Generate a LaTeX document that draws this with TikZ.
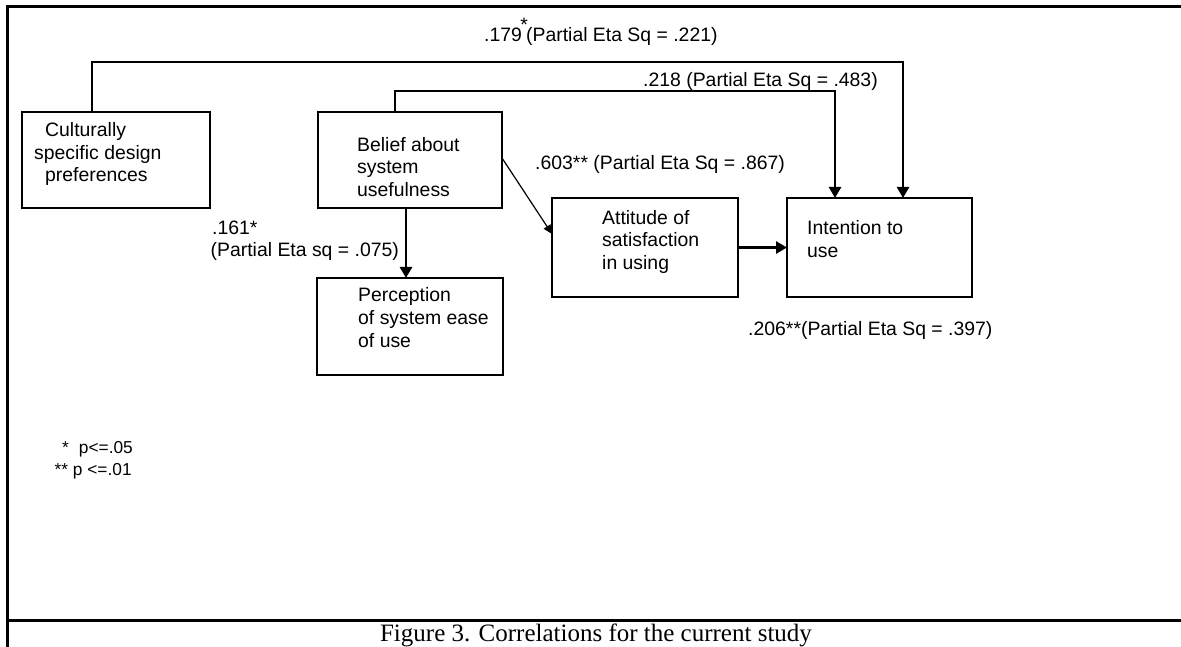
\documentclass[tikz,border=0pt]{standalone}
\usepackage{fontspec}
\setmainfont{Liberation Serif}
\newfontfamily\arialfont{Liberation Sans}
\usetikzlibrary{arrows.meta,calc}
\tikzset{
  frameline/.style={line width=3pt, line join=miter, black},
  boxnode/.style={draw, rectangle, line width=1.5pt, inner sep=0pt, outer sep=0pt},
  boxtext/.style={inner sep=0pt, anchor=north west, align=left,
     font=\arialfont\fontsize{19.4}{22.6}\selectfont},
  lbl/.style={inner sep=0pt, anchor=base west,
     font=\arialfont\fontsize{19.4}{22.6}\selectfont},
  leg/.style={inner sep=0pt, anchor=base west,
     font=\arialfont\fontsize{17.3}{21.7}\selectfont},
  capt/.style={inner sep=0pt, anchor=base,
     font=\fontsize{25}{28}\selectfont},
  conn/.style={line width=1.5pt},
  dropline/.style={line width=2.6pt, line cap=rect, -{Triangle[length=11pt,width=12pt]}},
  bigarrow/.style={line width=2.8pt, -{Triangle[length=11pt,width=12pt]}},
  smallarrow/.style={line width=1.2pt, -{Triangle[length=9pt,width=8pt]}}
}
\begin{document}
\begin{tikzpicture}[x=1pt,y=-1pt]
\useasboundingbox (0,0) rectangle (1181,647);
\fill[white] (0,0) rectangle (1181,647);
% frame
\draw[frameline] (1181,7) -- (7,7) -- (7,647);
\draw[frameline] (7,620) -- (1181,620);

% boxes
\node[boxnode, minimum width=188pt, minimum height=96pt] (cult) at (116,160) {};
\node[boxnode, minimum width=184pt, minimum height=96pt] (belief) at (410,160) {};
\node[boxnode, minimum width=186pt, minimum height=97pt] (percep) at (410,326.5) {};
\node[boxnode, minimum width=186pt, minimum height=99pt] (attit) at (645,247.5) {};
\node[boxnode, minimum width=185pt, minimum height=99pt] (intent) at (879.5,247.5) {};

% box texts
\node[boxtext] (cultT) at (45,120.7) {\strut Culturally\\\hspace*{-11pt}specific design\\preferences};
\node[boxtext] (beliefT) at (357,135.2) {\strut Belief about\\system\\usefulness};
\node[boxtext] (percepT) at (358,285.9) {\strut Perception\\of system ease\\of use};
\node[boxtext] (attitT) at (602,208.2) {\strut Attitude of\\satisfaction\\in using};
\node[boxtext] (intentT) at (807,218.5) {\strut Intention to\\use};

% connectors
\coordinate (j1) at (92,62);
\coordinate (j2) at (903,62);
\coordinate (k1) at (395,91);
\coordinate (k2) at (835,91);
\coordinate (v) at (406,0);
\draw[conn] (cult.north -| j1) -- (j1) -- (j2);
\draw[dropline] (j2) -- (intent.north -| j2);
\draw[conn] (belief.north -| k1) -- (k1) -- (k2);
\draw[dropline] (k2) -- (intent.north -| k2);
\draw[bigarrow] (belief.south -| v) -- (percep.north -| v);
\draw[smallarrow] ($(belief.east)+(0,-2)$) -- ($(attit.north west)+(0,36)$);
\draw[bigarrow] (attit.east) -- (intent.west);

% labels
\node[lbl] (l179) at (484,42) {.179\makebox[4.2pt]{\raisebox{10.5pt}{*}}(Partial Eta Sq = .221)};
\node[lbl] (l218) at (643,87) {.218 (Partial Eta Sq = .483)};
\node[lbl] (l603) at (535,170) {.603** (Partial Eta Sq = .867)};
\node[lbl] (l161) at (212,235) {.161*};
\node[lbl] (l075) at (210.5,257) {(Partial Eta sq = .075)};
\node[lbl] (l206) at (748,335) {.206**(Partial Eta Sq = .397)};

% legend
\node[leg] (p05) at (62,453.3) {*\hspace{10pt}p<=.05};
\node[leg] (p01) at (54.5,475) {** p <=.01};

% caption
\node[capt] (cap) at (596,641) {Figure 3. Correlations for the current study};
\end{tikzpicture}
\end{document}
